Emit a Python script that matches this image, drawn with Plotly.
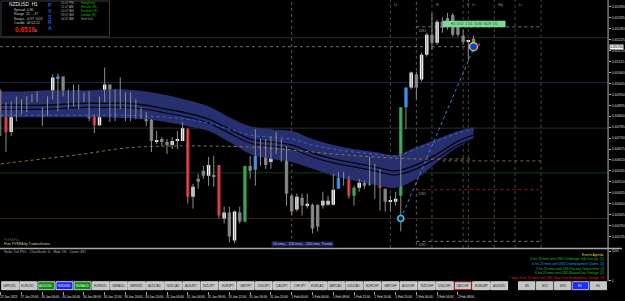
import plotly.graph_objects as go

W, H = 625, 301

# ---------------- data ----------------
symbol = "NZDUSD"
timeframe = "H1"
pvsra_class = list("rrwwgwwwgw" "wbggbgwgrw" "wgwgggwggg" "wggwwwrwgg" "wgrwgwgGgb"
                   "wgwgwggwgw" "ggwwwbbrGw" "gGgrgwwGbw" "gwwgwggggg" "wg")
opens = [0.64965,0.64870,0.64760,0.64840,0.64905,0.64875,0.64920,0.64925,0.64865,0.64845,
         0.64930,0.65030,0.65040,0.64960,0.64910,0.64970,0.64930,0.64940,0.64840,0.64795,
         0.64915,0.65000,0.64840,0.64945,0.64890,0.64885,0.64875,0.64875,0.64840,0.64825,
         0.64715,0.64725,0.64710,0.64695,0.64720,0.64715,0.64775,0.64435,0.64525,0.64565,
         0.64540,0.64540,0.64595,0.64325,0.64355,0.64215,0.64355,0.64310,0.64590,0.64570,
         0.64640,0.64685,0.64610,0.64725,0.64665,0.64690,0.64440,0.64370,0.64430,0.64390,
         0.64395,0.64395,0.64390,0.64395,0.64395,0.64475,0.64530,0.64540,0.64440,0.64480,
         0.64505,0.64495,0.64585,0.64570,0.64475,0.64410,0.64410,0.64440,0.64885,0.64985,
         0.65050,0.65025,0.65150,0.65250,0.65210,0.65315,0.65335,0.65350,0.65290,0.65245,
         0.65215,0.65230]
highs = [0.64975,0.64910,0.64915,0.64940,0.64925,0.64940,0.64950,0.64965,0.64885,0.64940,
         0.65050,0.65055,0.65040,0.64975,0.65000,0.65000,0.64960,0.64965,0.64850,0.64940,
         0.65085,0.65000,0.64975,0.65035,0.64960,0.64960,0.64925,0.64885,0.64860,0.64825,
         0.64765,0.64735,0.64725,0.64735,0.64765,0.64810,0.64780,0.64500,0.64550,0.64590,
         0.64635,0.64640,0.64595,0.64385,0.64385,0.64365,0.64385,0.64590,0.64640,0.64775,
         0.64725,0.64725,0.64740,0.64760,0.64725,0.64690,0.64450,0.64450,0.64450,0.64450,
         0.64400,0.64395,0.64460,0.64440,0.64550,0.64560,0.64560,0.64540,0.64490,0.64525,
         0.64515,0.64635,0.64600,0.64575,0.64475,0.64440,0.64460,0.64885,0.64985,0.65065,
         0.65065,0.65160,0.65260,0.65360,0.65325,0.65340,0.65360,0.65360,0.65310,0.65275,
         0.65225,0.65245]
lows = [0.64740,0.64660,0.64740,0.64815,0.64850,0.64860,0.64910,0.64910,0.64790,0.64840,
        0.64925,0.64865,0.64940,0.64875,0.64890,0.64875,0.64910,0.64815,0.64755,0.64790,
        0.64910,0.64810,0.64815,0.64875,0.64815,0.64815,0.64825,0.64825,0.64790,0.64660,
        0.64700,0.64690,0.64650,0.64675,0.64675,0.64715,0.64400,0.64375,0.64475,0.64525,
        0.64490,0.64485,0.64325,0.64300,0.64205,0.64200,0.64300,0.64305,0.64525,0.64490,
        0.64590,0.64575,0.64575,0.64650,0.64610,0.64390,0.64340,0.64360,0.64340,0.64375,
        0.64250,0.64260,0.64375,0.64390,0.64390,0.64475,0.64490,0.64425,0.64390,0.64460,
        0.64475,0.64490,0.64425,0.64365,0.64360,0.64360,0.64390,0.64260,0.64775,0.64975,
        0.64925,0.65015,0.65140,0.65175,0.65200,0.65260,0.65275,0.65240,0.65240,0.65200,
        0.65125,0.65185]
closes = [0.64865,0.64760,0.64840,0.64910,0.64875,0.64920,0.64925,0.64930,0.64845,0.64930,
          0.65035,0.65040,0.64950,0.64905,0.64970,0.64930,0.64940,0.64830,0.64795,0.64915,
          0.65000,0.64840,0.64945,0.64885,0.64880,0.64880,0.64880,0.64840,0.64815,0.64715,
          0.64720,0.64710,0.64695,0.64715,0.64725,0.64780,0.64435,0.64485,0.64510,0.64540,
          0.64595,0.64535,0.64340,0.64355,0.64235,0.64360,0.64310,0.64590,0.64565,0.64640,
          0.64685,0.64595,0.64725,0.64660,0.64690,0.64450,0.64360,0.64435,0.64390,0.64400,
          0.64275,0.64285,0.64415,0.64415,0.64470,0.64530,0.64540,0.64440,0.64480,0.64505,
          0.64490,0.64580,0.64560,0.64480,0.64410,0.64415,0.64425,0.64885,0.64985,0.65060,
          0.64985,0.65150,0.65250,0.65210,0.65315,0.65285,0.65300,0.65250,0.65250,0.65215,
          0.65220,0.65190]
volume = [1845,2055,1755,1455,945,795,795,555,945,1095,
          1095,1545,1305,945,1545,1095,1305,1305,1800,1455,
          1305,1305,1650,1455,1800,1800,1455,1650,1155,1125,
          1125,525,945,900,1200,1200,1050,1200,1200,1200,
          1455,1305,1605,1455,1305,1155,945,2055,1845,2295,
          1545,1305,1155,945,945,795,555,705,900,1050,
          1050,1095,1005,1005,1050,1605,1605,1305,1305,1050,
          1305,1950,1650,2700,1455,1455,1455,3855,2805,1455,
          1050,1350,1350,1425,1350,1200,1050,1275,1200,1350,
          1605,450]

band_idx = [0,4,8,12,16,20,24,28,32,36,40,44,48,52,56,60,64,68,72,76,80,84,88,91]
band_upper = [0.64965,0.64965,0.64970,0.64970,0.64970,0.64975,0.64975,0.64965,0.64945,0.64920,
              0.64890,0.64835,0.64790,0.64775,0.64765,0.64725,0.64695,0.64675,0.64660,0.64645,
              0.64685,0.64725,0.64765,0.64785]
band_lower = [0.64835,0.64835,0.64835,0.64835,0.64835,0.64835,0.64830,0.64825,0.64810,0.64790,
              0.64765,0.64710,0.64650,0.64625,0.64610,0.64575,0.64540,0.64515,0.64495,0.64480,
              0.64525,0.64610,0.64685,0.64725]
ema_100 = [0.64895,0.64895,0.64895,0.64900,0.64905,0.64905,0.64905,0.64895,0.64875,0.64855,
           0.64825,0.64775,0.64725,0.64710,0.64695,0.64655,0.64625,0.64605,0.64585,0.64565,
           0.64595,0.64650,0.64715,0.64745]
ema_200 = [0.64875,0.64875,0.64875,0.64880,0.64885,0.64885,0.64885,0.64875,0.64855,0.64835,
           0.64805,0.64755,0.64705,0.64690,0.64675,0.64635,0.64605,0.64585,0.64565,0.64545,
           0.64575,0.64630,0.64695,0.64725]
ema_50 = [0.64845,0.64845,0.64845,0.64845,0.64845,0.64845,0.64845,0.64840,0.64835,0.64825,
          0.64805,0.64775,0.64745,0.64735,0.64725,0.64695,0.64675,0.64660,0.64650,0.64640,
          0.64675,0.64715,0.64755,0.64775]
ma_idx = [0,8,16,24,32,40,48,56,64,72,80,88,91]
ma_long = [0.64600,0.64625,0.64650,0.64680,0.64690,0.64690,0.64685,0.64670,0.64650,0.64635,
           0.64625,0.64625,0.64625]

level_prices = [0.65235, 0.65010, 0.64780, 0.64555, 0.64325]
level_colors = ["#3d2a16", "#1b2450", "#2e2e2e", "#0e3d14", "#3a2410"]
pivot_names = ["DR1", "", "DS1", "DS2"]
pivot_prices = [0.65290, 0.64615, 0.64470, 0.64210]
pivot_start = [80, 85, 80, 80]
pivot_colors = ["#7a7a7a", "#6a6a50", "#a01818", "#7a7a7a"]
pivot_end = 104
day_sep_idx = [56, 80]
session_idx = [75, 83, 89, 90, 95, 99, 104]
session_labels = ["Lt", "H", "P", "Lt", "Wy", "Lt", ""]
swing_idx = [77, 91]
swing_price = [0.64325, 0.65180]

price_ticks = [0.65390,0.65335,0.65280,0.65225,0.65170,0.65115,0.65060,0.65005,0.64950,
               0.64895,0.64840,0.64785,0.64730,0.64675,0.64620,0.64565,0.64510,0.64455,
               0.64400,0.64345,0.64290,0.64235]
time_idx = list(range(0, 92, 4))
time_labels = ["27 Jan 2023","27 Jan 20:00","30 Jan 00:00","30 Jan 04:00","30 Jan 08:00",
               "30 Jan 12:00","30 Jan 16:00","30 Jan 20:00","31 Jan 00:00","31 Jan 04:00",
               "31 Jan 08:00","31 Jan 12:00","31 Jan 16:00","31 Jan 20:00","1 Feb 00:00",
               "1 Feb 04:00","1 Feb 08:00","1 Feb 12:00","1 Feb 16:00","1 Feb 20:00",
               "2 Feb 00:00","2 Feb 04:00","2 Feb 08:00"]
pair_buttons = ["GBPUSD","EURUSD","AUDUSD","NZDUSD","EURAUD","EURNZD","GBPAUD","GBPNZD",
                "AUDCAD","NZDCAD","AUDJPY","NZDJPY","EURJPY","GBPJPY","USDJPY","CADJPY",
                "CHFJPY","EURCAD","GBPCAD","USDCAD","EURCHF","GBPCHF","AUDCHF","NZDCHF",
                "USDCHF","CADCHF","EURGBP","AUDNZD"]
tf_buttons = ["M5", "M15", "M30", "H1", "H4"]
clock_times = ["05:07 PM", "11:07 AM", "10:07 AM", "09:07 AM", "04:07 AM"]
clock_cities = ["HongKong", "Helsinki (EL)", "Frankfurt (F)", "London (E)", "NewYork"]
events = [("Events Agenda", "#e0d840"),
          ("3 hrs 23 mins until USD Challenger Job Cuts y/y  (1)", "#22c022"),
          ("4 hrs 23 mins until USD Unemployment Claims  (3)", "#2f9cf0"),
          ("5 hrs 53 mins until USD Factory Orders m/m  (2)", "#22c022"),
          ("6 hrs 23 mins until USD Natural Gas Storage  (2)", "#22c022"),
          ("1 days 4 hrs 23 mins until USD Non-Farm Employment Change  (3)", "#e01818")]

# ---------------- geometry ----------------
X0, DX = 0.78, 5.22          # pixel of bar 0, pixels per bar
PLOT_R = 611                 # right edge of chart (px)
MAIN_BOT = 249.5
SUB_TOP, SUB_BOT = 250.5, 282.7
P_TOP, P_PER_PX = 0.65425, 0.00005
xr = [(0 - X0) / DX, (PLOT_R - X0) / DX]
yr_main = [P_TOP - MAIN_BOT * P_PER_PX, P_TOP]
VOL_PER_PX = 150
yr_sub = [0, (SUB_BOT - SUB_TOP) * VOL_PER_PX]

def px(x):
    return x / W

def py(y):
    return 1 - y / H

FONT = "Liberation Sans, Arial, sans-serif"
colors = {"w": "#f2f2f2", "g": "#7c7c7c", "r": "#d8111c", "b": "#1e86f0", "G": "#0fa53c"}
vcolors = {"w": "#3a4466", "g": "#3a4466", "r": "#d8111c", "b": "#1e86f0", "G": "#0fa53c"}

fig = go.Figure()

# EMA band
fig.add_trace(go.Scatter(x=band_idx, y=band_upper, mode="lines", line=dict(width=0, shape="spline"),
                         hoverinfo="skip", showlegend=False))
fig.add_trace(go.Scatter(x=band_idx, y=band_lower, mode="lines", line=dict(width=0, shape="spline"),
                         fill="tonexty", fillcolor="#282f6e", hoverinfo="skip", showlegend=False))
for arr, col, dash, wd in [(ema_100, "#05060f", "solid", 1.4), (ema_200, "#05060f", "solid", 1.2),
                           (ema_50, "#3b5fd8", "dot", 1.0)]:
    fig.add_trace(go.Scatter(x=band_idx, y=arr, mode="lines",
                             line=dict(color=col, width=wd, dash=dash, shape="spline"),
                             hoverinfo="skip", showlegend=False))
fig.add_trace(go.Scatter(x=ma_idx, y=ma_long, mode="lines",
                         line=dict(color="#8a7446", width=1, dash="dot", shape="spline"),
                         hoverinfo="skip", showlegend=False))

# wicks
wx, wy = [], []
for i in range(len(opens)):
    wx += [i, i, None]
    wy += [lows[i], highs[i], None]
fig.add_trace(go.Scatter(x=wx, y=wy, mode="lines", line=dict(color="#8e8e8e", width=1),
                         hoverinfo="skip", showlegend=False))

# bodies
for c in ["w", "g", "r", "b", "G"]:
    ids = [i for i, k in enumerate(pvsra_class) if k == c]
    base = [min(opens[i], closes[i]) for i in ids]
    hgt = [max(abs(opens[i] - closes[i]), 0.00004) for i in ids]
    fig.add_trace(go.Bar(x=ids, y=hgt, base=base, width=0.66, marker=dict(color=colors[c], line=dict(width=0)),
                         hoverinfo="skip", showlegend=False))

# swing line + markers
fig.add_trace(go.Scatter(x=swing_idx, y=swing_price, mode="lines",
                         line=dict(color="#4a7fd0", width=1, dash="dot"), hoverinfo="skip", showlegend=False))
fig.add_trace(go.Scatter(x=[swing_idx[0]], y=[swing_price[0]], mode="markers",
                         marker=dict(size=6, color="#06203a", line=dict(color="#4ab8f0", width=1.6)),
                         hoverinfo="skip", showlegend=False))
fig.add_trace(go.Scatter(x=[swing_idx[1]], y=[closes[-1]], mode="markers",
                         marker=dict(size=8, color="#0838ff", line=dict(color="#c8c820", width=1.5)),
                         hoverinfo="skip", showlegend=False))
fig.add_trace(go.Scatter(x=[len(opens)], y=[closes[-1] + 0.0001], mode="markers",
                         marker=dict(size=3, color="#e01010"), hoverinfo="skip", showlegend=False))

# volume sub window
for c in ["w", "r", "b", "G"]:
    ids = [i for i, k in enumerate(pvsra_class) if (k == c or (c == "w" and k == "g"))]
    fig.add_trace(go.Bar(x=ids, y=[volume[i] for i in ids], width=0.68, xaxis="x2", yaxis="y2",
                         marker=dict(color=vcolors[c], line=dict(width=0)), hoverinfo="skip", showlegend=False))

# dummy for time axis
fig.add_trace(go.Scatter(x=[0], y=[None], xaxis="x3", yaxis="y2", mode="markers", showlegend=False))

shapes = []
ann = []

# horizontal levels (full width)
for p, c in zip(level_prices, level_colors):
    shapes.append(dict(type="line", xref="x", yref="y", x0=xr[0], x1=xr[1], y0=p, y1=p,
                       line=dict(color=c, width=1), layer="below"))
# bid line
shapes.append(dict(type="line", xref="x", yref="y", x0=xr[0], x1=len(opens) - 1, y0=closes[-1], y1=closes[-1],
                   line=dict(color="#6e6e6e", width=1, dash="dot"), layer="below"))
# pivots
for n, p, c, s0 in zip(pivot_names, pivot_prices, pivot_colors, pivot_start):
    shapes.append(dict(type="line", xref="x", yref="y", x0=s0, x1=pivot_end, y0=p, y1=p,
                       line=dict(color=c, width=1, dash="dot"), layer="below"))
    if n:
        ann.append(dict(x=s0 + 0.2, y=p, xref="x", yref="y", text=n, showarrow=False,
                        xanchor="left", yanchor="top", font=dict(size=3.6, color="#a0a0a0", family=FONT)))
# vertical separators
for s in day_sep_idx:
    shapes.append(dict(type="line", xref="x", yref="paper", x0=s, x1=s, y0=py(SUB_BOT), y1=1,
                       line=dict(color="#5a5a5a", width=1, dash="dot"), layer="below"))
for s, lab in zip(session_idx, session_labels):
    shapes.append(dict(type="line", xref="x", yref="paper", x0=s, x1=s, y0=py(MAIN_BOT), y1=1,
                       line=dict(color="#4a4a4a", width=1, dash="dot"), layer="below"))
    if lab:
        ann.append(dict(x=s + 0.3, y=py(1.5), xref="x", yref="paper", text=lab, showarrow=False,
                        xanchor="left", yanchor="top", font=dict(size=3.6, color="#9a9a9a", family=FONT)))

# frame lines
shapes.append(dict(type="line", xref="paper", yref="paper", x0=px(PLOT_R), x1=px(PLOT_R), y0=py(SUB_BOT + 0.5), y1=1,
                   line=dict(color="#b4b4b4", width=1)))
shapes.append(dict(type="line", xref="paper", yref="paper", x0=0, x1=1, y0=py(MAIN_BOT + 0.6), y1=py(MAIN_BOT + 0.6),
                   line=dict(color="#a8a8a8", width=1.5)))

# info panel
shapes.append(dict(type="rect", xref="paper", yref="paper", x0=px(1), x1=px(110), y0=py(37), y1=py(1),
                   line=dict(color="#3c3c3c", width=1), fillcolor="#000000"))
def txt(x, y, s, size, color, anchor="left", bold=False, bg=None, vanchor="middle"):
    d = dict(x=px(x), y=py(y), xref="paper", yref="paper", text=("<b>%s</b>" % s) if bold else s,
             showarrow=False, xanchor=anchor, yanchor=vanchor,
             font=dict(size=size, color=color, family=FONT))
    if bg:
        d["bgcolor"] = bg
        d["borderpad"] = 0
    ann.append(d)

txt(7, 4.5, symbol + "  " + timeframe, 4.8, "#e8e8e8")
txt(12, 10, "Spread  0.80", 3.4, "#c8c8c8")
txt(12, 14.5, "Range  22 ... 47", 3.4, "#c8c8c8")
txt(12, 19, "Swaps  -0.97  0.03", 3.4, "#c8c8c8")
txt(12, 23.5, "Candle  00:52:22", 3.4, "#c8c8c8")
txt(13, 30, "%.4f" % closes[-1], 6.5, "#ff1a1a", bold=True)
txt(33.5, 31, "0", 3.4, "#e0e0e0")
for k, ch in enumerate("PVSRA"):
    txt(50, 5.5 + k * 5.6, ch, 5.2, "#2a55e8", anchor="center", bold=True)
for k, (t, c) in enumerate(zip(clock_times, clock_cities)):
    txt(59, 3.3 + k * 3.9, t, 3.0, "#a8a8a8")
    txt(79, 3.3 + k * 3.9, c, 3.0, "#22b522" if k < 4 else "#9a9a9a")

# green info label
shapes.append(dict(type="rect", xref="paper", yref="paper", x0=px(445), x1=px(508), y0=py(27.5), y1=py(21),
                   line=dict(width=0), fillcolor="#7fd896"))
txt(476.5, 24.2, "H1  0:52  1.5/1  6536  6529  5/5", 3.3, "#1d4a22", anchor="center")

# bottom text
txt(2, 241.5, "PVSRA Plus", 2.8, "#555540")
txt(2, 245.3, "Free PVSRA by Traderathome", 3.4, "#d6d29a")
txt(272, 245.3, " 50 ema,   100 ema,   200 ema  Trends ", 3.5, "#b8bde0", bg="#1d245c")
txt(2, 253.5, "Strike Tick PVs:   ChartScale: 4,   Mod: Off,   Count: 467", 3.3, "#b4b4b4")
for k, (s, c) in enumerate(events):
    txt(609, 256.5 + k * 4.6, s, 3.2, c, anchor="right")

# current price tag
ann.append(dict(x=px(612), y=closes[-1], xref="paper", yref="y", text="%.5f" % closes[-1], showarrow=False,
                xanchor="left", yanchor="middle", bgcolor="#f4f4f4", borderpad=0,
                font=dict(size=3.6, color="#000000", family=FONT)))

# buttons
BY0, BY1 = 283.6, 291.6
for k, name in enumerate(pair_buttons):
    x0 = 1.7 + 18.2 * k
    fill, tcol, lcol = "#c6c6c6", "#2a2a2a", "#ececec"
    if name in ("AUDUSD", "EURAUD"):
        fill, tcol = "#0b8a12", "#e8ffe8"
    if name == symbol:
        fill, tcol, lcol = "#1a22f5", "#ffffff", "#ffffff"
    if name == "CADCHF":
        lcol = "#c01010"
    shapes.append(dict(type="rect", xref="paper", yref="paper", x0=px(x0), x1=px(x0 + 17), y0=py(BY1), y1=py(BY0),
                       line=dict(color=lcol, width=0.8), fillcolor=fill))
    txt(x0 + 8.5, (BY0 + BY1) / 2, name, 3.0, tcol, anchor="center")
for k, name in enumerate(tf_buttons):
    x0 = 521 + 18 * k
    fill, tcol = ("#1a2cff", "#ffffff") if name == timeframe else ("#c6c6c6", "#2a2a2a")
    shapes.append(dict(type="rect", xref="paper", yref="paper", x0=px(x0), x1=px(x0 + 16.5), y0=py(BY1), y1=py(BY0),
                       line=dict(color="#e0e0e0", width=0.8), fillcolor=fill))
    txt(x0 + 8.25, (BY0 + BY1) / 2, name, 3.0, tcol, anchor="center")

fig.update_layout(
    width=W, height=H, margin=dict(l=0, r=0, t=0, b=0),
    paper_bgcolor="#000000", plot_bgcolor="#000000",
    barmode="overlay", showlegend=False, shapes=shapes, annotations=ann,
    font=dict(family=FONT, color="#d0d0d0"),
    xaxis=dict(domain=[0, px(PLOT_R)], range=xr, showgrid=False, zeroline=False, showticklabels=False,
               ticks="", anchor="y"),
    yaxis=dict(domain=[py(MAIN_BOT), 1], range=yr_main, side="right", showgrid=False, zeroline=False,
               tickvals=price_ticks, ticktext=["%.5f" % v for v in price_ticks],
               tickfont=dict(size=3.6, color="#d8d8d8", family=FONT), ticks="outside", ticklen=2,
               tickcolor="#b0b0b0", anchor="x"),
    xaxis2=dict(domain=[0, px(PLOT_R)], range=xr, matches="x", showgrid=False, zeroline=False,
                showticklabels=False, ticks="", anchor="y2"),
    yaxis2=dict(domain=[py(SUB_BOT), py(SUB_TOP)], range=yr_sub, side="right", showgrid=False, zeroline=False,
                tickvals=[4500, 0], ticktext=["4500", "0"], tickfont=dict(size=3.2, color="#c8c8c8", family=FONT),
                ticks="outside", ticklen=2, tickcolor="#b0b0b0", anchor="x2"),
    xaxis3=dict(domain=[0, px(PLOT_R)], range=xr, anchor="free", position=py(292.5), side="bottom",
                showgrid=False, zeroline=False, tickvals=time_idx, ticktext=time_labels,
                tickfont=dict(size=3.1, color="#e0e0e0", family=FONT), ticks="outside", ticklen=3,
                tickcolor="#a0a0a0", ticklabelshift=8, ticklabelstandoff=0, showline=False),
)

fig.write_html("out.html")
